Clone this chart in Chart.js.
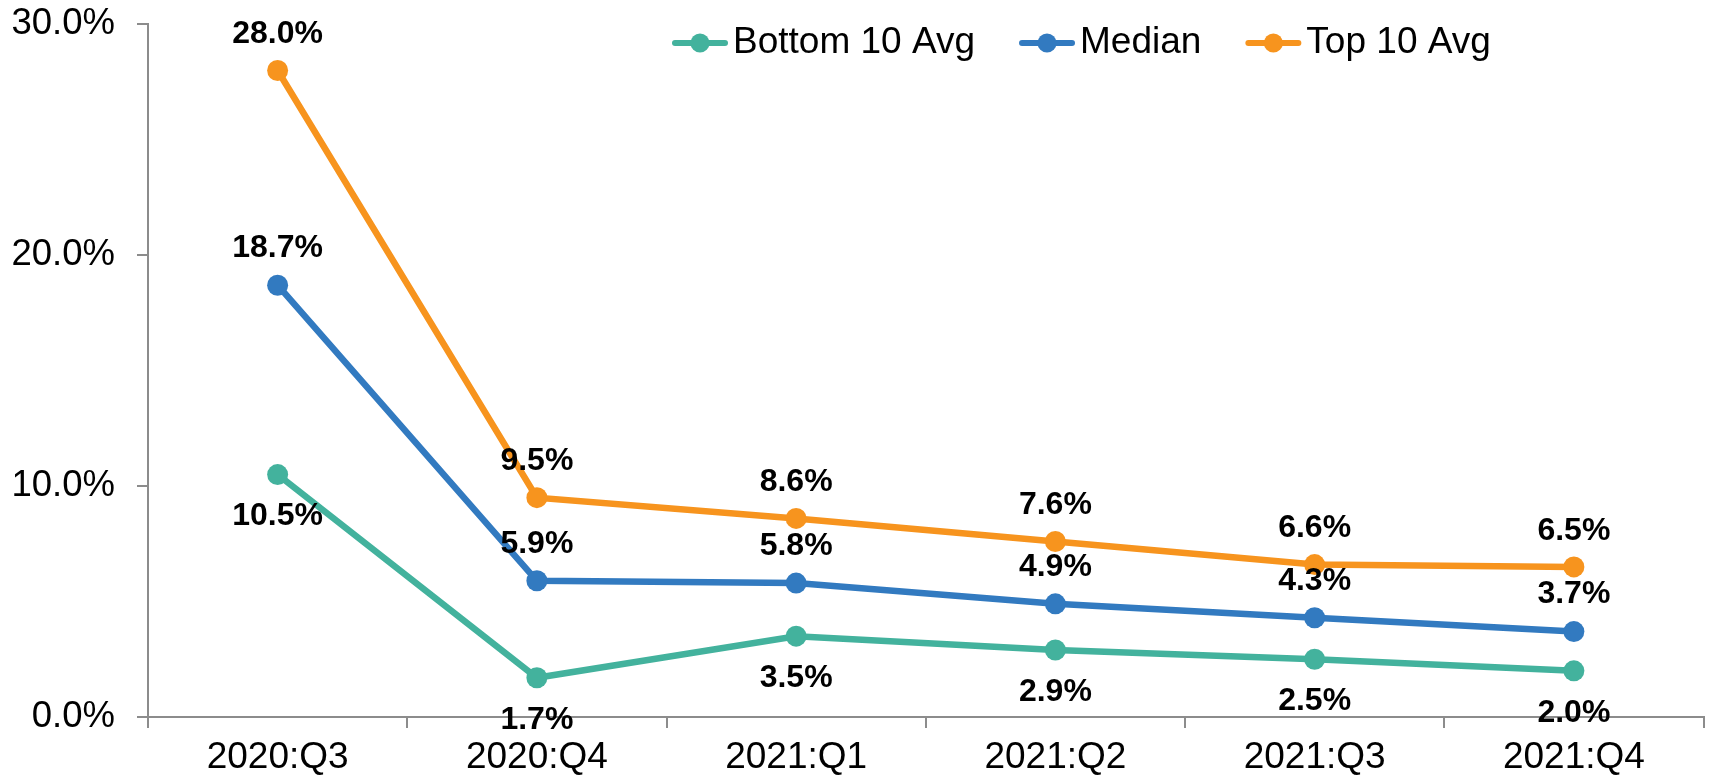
<!DOCTYPE html>
<html>
<head>
<meta charset="utf-8">
<script src="https://cdn.jsdelivr.net/npm/chart.js@4.4.1/dist/chart.umd.min.js"></script>
<style>
  html, body { margin:0; padding:0; background:#fff; }
  #wrap { width:1714px; height:777px; }
</style>
</head>
<body>
<div id="wrap"><canvas id="chart" width="1714" height="777"></canvas></div>
<script>
const quarters = ["2020:Q3","2020:Q4","2021:Q1","2021:Q2","2021:Q3","2021:Q4"];
const bottom10 = [10.5, 1.7, 3.5, 2.9, 2.5, 2.0];
const median   = [18.7, 5.9, 5.8, 4.9, 4.3, 3.7];
const top10    = [28.0, 9.5, 8.6, 7.6, 6.6, 6.5];
const yTicks   = [0, 10, 20, 30];

const FONT = "'Liberation Sans', Arial, sans-serif";
const AXIS = "#8c8c8c";
const pct = v => v.toFixed(1) + "%";

function series(label, data, color, labelOffset){
    return {
        label: label, data: data, labelOffset: labelOffset,
        borderColor: color, backgroundColor: color,
        borderWidth: 6.5, tension: 0,
        pointRadius: 10.5, pointHoverRadius: 10.5,
        pointBackgroundColor: color, pointBorderWidth: 0
    };
}

// value labels next to each point
const valueLabels = {
    id: "valueLabels",
    afterDatasetsDraw(chart){
        const ctx = chart.ctx;
        ctx.save();
        ctx.font = "bold 32px " + FONT;
        ctx.fillStyle = "#000";
        ctx.textAlign = "center";
        ctx.textBaseline = "middle";
        chart.data.datasets.forEach((ds, i) => {
            chart.getDatasetMeta(i).data.forEach((pt, j) => {
                ctx.fillText(pct(ds.data[j]), pt.x, pt.y + ds.labelOffset);
            });
        });
        ctx.restore();
    }
};

// legend sitting inside the plot, line + dot markers
const plotLegend = {
    id: "plotLegend",
    afterDraw(chart){
        const ctx = chart.ctx;
        ctx.save();
        ctx.font = "37px " + FONT;
        ctx.textBaseline = "middle";
        let x = 672, y = 43;
        chart.data.datasets.forEach(ds => {
            ctx.strokeStyle = ds.borderColor;
            ctx.lineWidth = 6;
            ctx.lineCap = "round";
            ctx.beginPath(); ctx.moveTo(x + 3, y); ctx.lineTo(x + 53, y); ctx.stroke();
            ctx.fillStyle = ds.borderColor;
            ctx.beginPath(); ctx.arc(x + 28, y, 9.5, 0, Math.PI * 2); ctx.fill();
            ctx.fillStyle = "#000";
            ctx.fillText(ds.label, x + 61, y);
            x += 61 + ctx.measureText(ds.label).width + 44;
        });
        ctx.restore();
    }
};

new Chart(document.getElementById("chart"), {
    type: "line",
    data: {
        labels: quarters,
        datasets: [
            series("Bottom 10 Avg", bottom10, "#43b29d", 42),
            series("Median", median, "#327ac0", -37),
            series("Top 10 Avg", top10, "#f7941e", -36)
        ]
    },
    options: {
        responsive: false,
        animation: false,
        devicePixelRatio: 1,
        layout: { padding: { top: 24.3, right: 7, bottom: 0, left: 0 } },
        plugins: { legend: { display: false }, tooltip: { enabled: false } },
        scales: {
            x: {
                offset: true,
                grid: { offset: true, drawOnChartArea: false, drawTicks: true, tickLength: 11, color: AXIS, lineWidth: 2 },
                border: { color: AXIS, width: 2 },
                ticks: { color: "#000", font: { family: FONT, size: 37 }, padding: 8, maxRotation: 0 },
                afterFit(s){ s.height = 60; }
            },
            y: {
                min: 0, max: 30,
                afterBuildTicks(s){ s.ticks = yTicks.map(v => ({ value: v })); },
                grid: { drawOnChartArea: false, drawTicks: true, tickLength: 11, color: AXIS, lineWidth: 2 },
                border: { color: AXIS, width: 2 },
                ticks: { color: "#000", font: { family: FONT, size: 36.5 }, padding: 22, callback: v => pct(v) },
                afterFit(s){ s.width = 148; s.paddingTop = 0; s.paddingBottom = 0; }
            }
        }
    },
    plugins: [valueLabels, plotLegend]
});
</script>
</body>
</html>
